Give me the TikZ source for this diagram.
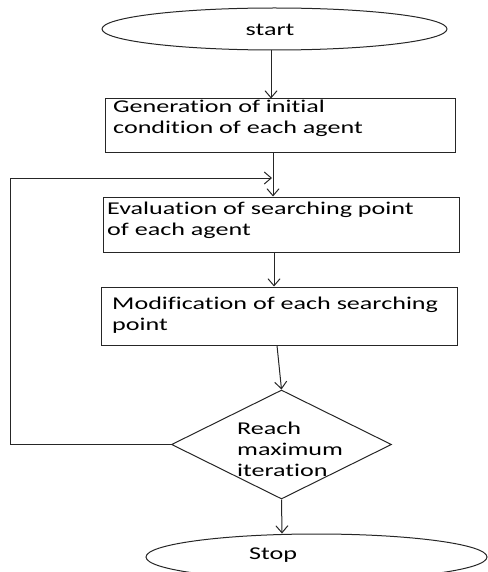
\documentclass[tikz,border=0pt]{standalone}
\usepackage{fontspec}
\setmainfont{Carlito}[Ligatures={NoCommon}, FakeStretch=1.45]
\usetikzlibrary{arrows.meta,shapes.geometric}
\begin{document}
\begin{tikzpicture}[x=1pt,y=-1pt,
  line/.style={draw=black!85, line width=1pt},
  arr/.style={line, -{Straight Barb[length=7pt,width=12pt]}},
  boxnode/.style={line, rectangle, inner sep=0pt},
  txt/.style={font=\fontsize{18}{21}\selectfont, inner sep=0pt, align=left, anchor=north west, text=black},
]
\useasboundingbox (0,0) rectangle (487,572);
\node[line, ellipse, minimum width=345pt, minimum height=42pt, inner sep=0pt] (start) at (274.5,29) {};
\node[txt, anchor=center] (starttxt) at (270,30) {start};
\node[boxnode, minimum width=350pt, minimum height=54pt] (b1) at (280,126) {};
\node[txt] (t1) at (113,100) {Generation of initial\\condition of each agent};
\node[boxnode, minimum width=356pt, minimum height=55pt] (b2) at (281,224.5) {};
\node[txt] (t2) at (107,202) {Evaluation of searching point\\of each agent};
\node[boxnode, minimum width=356pt, minimum height=58pt] (b3) at (279,316) {};
\node[txt] (t3) at (112,297) {Modification of each searching\\point};
\node[line, diamond, minimum width=220pt, minimum height=109pt, inner sep=0pt] (d) at (281.5,444.5) {};
\node[txt] (dt) at (237,422) {Reach\\maximum\\iteration};
\node[line, ellipse, minimum width=341pt, minimum height=46pt, inner sep=0pt] (stop) at (316.5,557) {};
\node[txt, anchor=center] (stoptxt) at (273,555) {Stop};
\coordinate (fbl) at (10,178);
\coordinate (fbr) at (272,178);
\draw[arr] ([xshift=-3.5pt]start.south) -- ([xshift=-9pt]b1.north);
\draw[arr] ([xshift=-7pt]b1.south) -- ([xshift=-8pt]b2.north);
\draw[arr] ([xshift=-7pt]b2.south) -- ([xshift=-5pt]b3.north);
\draw[arr] ([xshift=-2pt]b3.south) -- (d.north);
\draw[arr] (d.south) -- ([xshift=-34.5pt]stop.north);
\draw[arr] (d.west) -- (d.west -| fbl) -- (fbl) -- (fbr);
\end{tikzpicture}
\end{document}
